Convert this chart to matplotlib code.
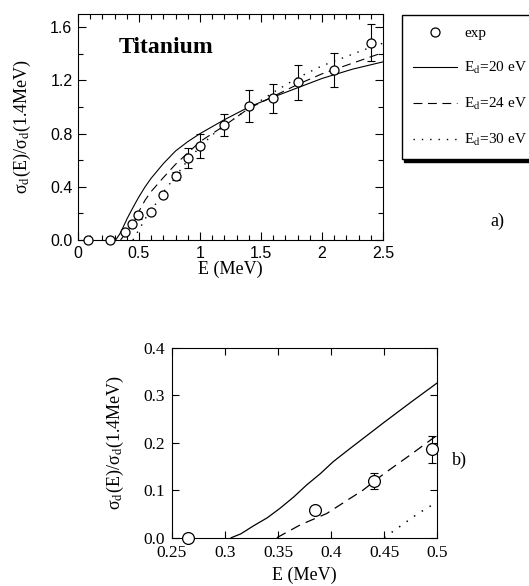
# plot.py
# Run: python3 plot.py

import matplotlib
matplotlib.use("Agg")
import matplotlib.pyplot as plt
import numpy as np
from matplotlib.ticker import MultipleLocator, FuncFormatter

plt.rcParams["mathtext.fontset"] = "stix"

SERIF = "Liberation Serif"
SANS = "Liberation Sans"

# measured points (E in MeV, normalised damage cross section)
E_exp = [0.08, 0.265, 0.385, 0.44, 0.495, 0.6, 0.7, 0.8, 0.9, 1.0, 1.2, 1.4, 1.6, 1.8, 2.1, 2.4]
y_exp = [0.0, 0.0, 0.058, 0.12, 0.186, 0.21, 0.34, 0.48, 0.615, 0.71, 0.865, 1.005, 1.065, 1.185, 1.28, 1.485]
y_err = [0.0, 0.0, 0.0, 0.017, 0.028, 0.0, 0.0, 0.03, 0.075, 0.09, 0.085, 0.12, 0.11, 0.13, 0.13, 0.14]

# calculated curves
E_20 = [0.306, 0.315, 0.327, 0.34, 0.352, 0.365, 0.377, 0.39, 0.402, 0.418, 0.45, 0.475, 0.50,
        0.55, 0.6, 0.7, 0.8, 0.9, 1.0, 1.2, 1.4, 1.6, 1.8, 2.0, 2.25, 2.5]
y_20 = [0.0, 0.008, 0.025, 0.042, 0.062, 0.086, 0.111, 0.135, 0.16, 0.188, 0.243, 0.285, 0.326,
        0.40, 0.465, 0.575, 0.67, 0.74, 0.80, 0.905, 1.00, 1.075, 1.145, 1.215, 1.285, 1.34]

E_24 = [0.349, 0.371, 0.396, 0.416, 0.43, 0.45, 0.475, 0.50, 0.55, 0.6, 0.7, 0.8, 0.9,
        1.0, 1.2, 1.4, 1.6, 1.8, 2.0, 2.25, 2.5]
y_24 = [0.0, 0.027, 0.051, 0.08, 0.10, 0.135, 0.175, 0.216, 0.30, 0.365, 0.47, 0.57, 0.655,
        0.74, 0.86, 0.99, 1.08, 1.17, 1.25, 1.33, 1.41]

E_30 = [0.45, 0.46, 0.47, 0.48, 0.49, 0.50, 0.55, 0.6, 0.7, 0.8, 0.9,
        1.0, 1.1, 1.2, 1.4, 1.6, 1.8, 2.0, 2.2, 2.4, 2.5]
y_30 = [0.0, 0.016, 0.032, 0.048, 0.062, 0.075, 0.16, 0.22, 0.36, 0.48, 0.60,
        0.70, 0.79, 0.86, 0.99, 1.11, 1.22, 1.31, 1.38, 1.45, 1.48]

ylabel = "σ$_\\mathrm{d}$(E)/σ$_\\mathrm{d}$(1.4MeV)"


def draw_data(ax, emax, ms, lw):
    E = np.array(E_exp)
    keep = E <= emax
    l20, = ax.plot(E_20, y_20, "k-", lw=lw)
    l24, = ax.plot(E_24, y_24, "k--", lw=lw, dashes=(8, 5))
    l30, = ax.plot(E_30, y_30, "k:", lw=lw + 0.2, dashes=(1, 5))
    ax.errorbar(E[keep], np.array(y_exp)[keep], yerr=np.array(y_err)[keep], fmt="none",
                ecolor="k", elinewidth=0.8, capsize=3, capthick=0.8, clip_on=False, zorder=3)
    pts, = ax.plot(E[keep], np.array(y_exp)[keep], "o", ms=ms, mfc="white", mec="k",
                   mew=0.9, ls="none", clip_on=False, zorder=4)
    return pts, l20, l24, l30


fig = plt.figure(figsize=(5.29, 5.86), dpi=100)

# panel a
ax1 = fig.add_axes([78 / 529, 1 - 240 / 586, 305 / 529, 226 / 586])
handles = draw_data(ax1, 2.5, 6.5, 0.8)
ax1.set_xlim(0, 2.5)
ax1.set_ylim(0, 1.7)
ax1.xaxis.set_major_locator(MultipleLocator(0.5))
ax1.xaxis.set_minor_locator(MultipleLocator(0.1))
ax1.yaxis.set_major_locator(MultipleLocator(0.4))
ax1.yaxis.set_minor_locator(MultipleLocator(0.2))
ax1.xaxis.set_major_formatter(FuncFormatter(lambda v, p: "%g" % v))
ax1.yaxis.set_major_formatter(FuncFormatter(lambda v, p: "%.1f" % v))
ax1.tick_params(which="both", direction="in", top=True, right=True, width=0.8)
ax1.tick_params(which="major", length=6, labelsize=11.5, pad=4)
ax1.tick_params(which="minor", length=3.5)
for lab in ax1.get_xticklabels() + ax1.get_yticklabels():
    lab.set_family(SANS)
ax1.set_xlabel("E (MeV)", family=SERIF, fontsize=13, labelpad=0)
ax1.set_ylabel(ylabel, family=SERIF, fontsize=13, labelpad=12)
ax1.text(0.33, 1.45, "Titanium", family=SERIF, fontsize=17, fontweight="bold", va="center")

leg = fig.legend(handles, ["exp", "E$_\\mathrm{d}$=20 eV", "E$_\\mathrm{d}$=24 eV",
                           "E$_\\mathrm{d}$=30 eV"],
                 loc="upper left", bbox_to_anchor=(401.7 / 529, 1 - 15 / 586),
                 prop={"family": SERIF, "size": 11}, frameon=True, fancybox=False,
                 shadow={"color": "k", "alpha": 1}, edgecolor="k", framealpha=1,
                 handlelength=2.9, handletextpad=0.45, borderpad=0.75, labelspacing=1.3,
                 borderaxespad=0)
leg.get_frame().set_linewidth(1.0)

fig.text(497 / 529, 1 - 221 / 586, "a)", family=SERIF, fontsize=13, ha="center", va="center")

# panel b
ax2 = fig.add_axes([171.7 / 529, 1 - 537.7 / 586, 265.6 / 529, 190 / 586])
draw_data(ax2, 0.5, 8.5, 0.9)
ax2.set_xlim(0.25, 0.5)
ax2.set_ylim(0, 0.4)
ax2.xaxis.set_major_locator(MultipleLocator(0.05))
ax2.yaxis.set_major_locator(MultipleLocator(0.1))
ax2.xaxis.set_major_formatter(FuncFormatter(lambda v, p: "%g" % round(v, 2)))
ax2.yaxis.set_major_formatter(FuncFormatter(lambda v, p: "%.1f" % v))
ax2.tick_params(which="major", direction="in", top=True, right=True, length=5, width=0.8,
                labelsize=12.5, pad=5)
for lab in ax2.get_xticklabels() + ax2.get_yticklabels():
    lab.set_family(SERIF)
ax2.set_xlabel("E (MeV)", family=SERIF, fontsize=13, labelpad=4)
ax2.set_ylabel(ylabel, family=SERIF, fontsize=13, labelpad=12)
fig.text(459 / 529, 1 - 460 / 586, "b)", family=SERIF, fontsize=13, ha="center", va="center")

plt.savefig("out.png", dpi=100)
